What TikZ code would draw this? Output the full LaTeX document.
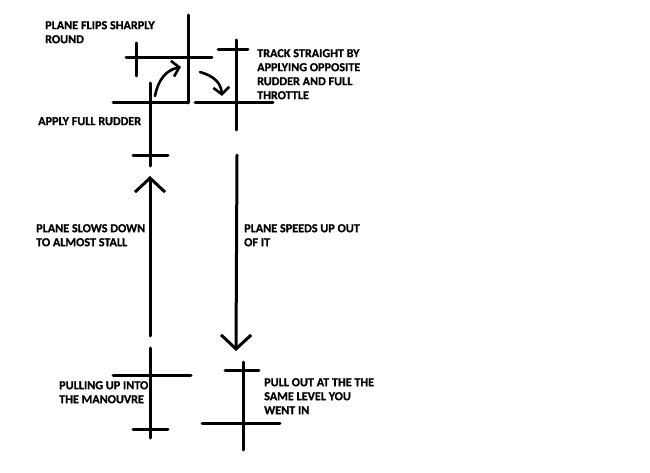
\documentclass[tikz,border=0pt]{standalone}
\usepackage{fontspec}
\newfontfamily\paintfont{Carlito-Bold.ttf}[FakeBold=0.8]
\usetikzlibrary{arrows.meta}

\begin{document}
\begin{tikzpicture}[x=1pt,y=-1pt,
 stroke/.style={line width=3pt,line cap=round},
 arr/.style={stroke,-{Straight Barb[length=14pt,width=30pt,line width=3pt]}},
 small arr/.style={line width=2.6pt,line cap=round,-{Straight Barb[length=7pt,width=16pt,line width=2.6pt]}},
 txt/.style={anchor=north west,inner sep=0pt,align=left,font=\paintfont\fontsize{12.2}{14}\selectfont}]
\useasboundingbox (0,0) rectangle (650,473);
% labels
\node[txt] (flips) at (45,21) {PLANE FLIPS SHARPLY\\ROUND};
\node[txt] (track) at (257,49) {TRACK STRAIGHT BY\\APPLYING OPPOSITE\\RUDDER AND FULL\\THROTTLE};
\node[txt] (rudder) at (38,117) {APPLY FULL RUDDER};
\node[txt] (slows) at (36,224) {PLANE SLOWS DOWN\\TO ALMOST STALL};
\node[txt] (speeds) at (244,224) {PLANE SPEEDS UP OUT\\OF IT};
\node[txt] (pulling) at (59,381) {PULLING UP INTO\\THE MANOUVRE};
\node[txt] (pullout) at (264,378) {PULL OUT AT THE THE\\SAME LEVEL YOU\\WENT IN};
% planes
\draw[stroke] (150,348) -- (150,438) (113,375) -- (191,375) (133,429) -- (168,429);
\draw[stroke] (150,83) -- (150,166) (113,103) -- (188,103) (133,156) -- (168,156);
\draw[stroke] (126,58) -- (212,58) (188,15) -- (188,103) (136,43) -- (136,76);
\draw[stroke] (236,40) -- (236,130) (195,103) -- (273,103) (218,50) -- (248,50);
\draw[stroke] (243,362) -- (243,450) (202,423) -- (280,423) (225,370) -- (259,370);
% flight path
\coordinate (up0) at (150,336);
\coordinate (up1) at (150,176);
\coordinate (dn0) at (237,155);
\coordinate (dn1) at (236,351);
\draw[arr] (up0) -- (up1);
\draw[arr] (dn0) -- (dn1);
\coordinate (fl0) at (155,96);
\coordinate (fl1) at (181,67);
\coordinate (tr0) at (200,72);
\coordinate (tr1) at (222,96);
\draw[small arr] (fl0) .. controls (158,80) and (166,70) .. (fl1);
\draw[small arr] (tr0) .. controls (214,76) and (221,83) .. (tr1);
\end{tikzpicture}
\end{document}
